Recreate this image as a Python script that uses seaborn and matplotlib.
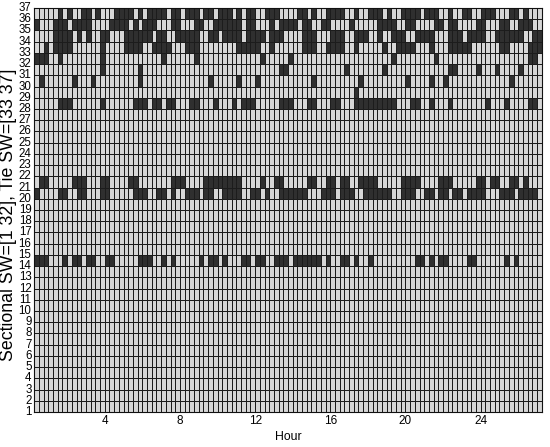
import matplotlib
matplotlib.use("Agg")
import matplotlib.pyplot as plt
import numpy as np
import pandas as pd
import seaborn as sns
from matplotlib.colors import ListedColormap

N_SLOTS = 108   # quarter-hour slots, 0.25 h .. 27.25 h
N_ROWS = 36     # cells between switch lines 1..37

# dark cells per row (1-based slot index); row key = lower switch line of the cell
row36 = [6, 8, 11, 12, 14, 18, 19, 20, 21, 23, 25, 26, 27, 28, 30, 31, 33, 34, 35, 37, 38, 40, 41, 42,
         44, 46, 47, 50, 51, 52, 57, 58, 60, 63, 64, 65, 66, 69, 72, 73, 74, 76, 79, 80, 81, 82, 84,
         85, 86, 89, 92, 93, 96, 97, 98, 102, 103, 105]
row35 = [1, 5, 6, 7, 9, 10, 11, 12, 17, 18, 19, 20, 22, 24, 25, 26, 30, 31, 35, 36, 39, 40, 41, 42,
         43, 44, 46, 47, 51, 53, 54, 55, 56, 58, 59, 62, 63, 68, 74, 75, 76, 77, 80, 81, 86, 87, 89,
         90, 95, 96, 100, 101, 104, 105, 106]
row34 = [5, 6, 7, 8, 10, 12, 15, 16, 20, 21, 22, 23, 24, 25, 27, 28, 31, 32, 33, 34, 35, 38, 39, 41,
         42, 43, 44, 46, 47, 48, 49, 51, 52, 53, 58, 59, 60, 64, 65, 66, 69, 70, 71, 74, 77, 78, 79,
         82, 83, 84, 85, 89, 90, 91, 93, 94, 95, 96, 99, 100, 101, 102, 103, 104, 107, 108]
row33 = [3, 5, 6, 7, 8, 15, 20, 21, 22, 23, 26, 27, 28, 29, 33, 34, 35, 44, 45, 46, 47, 48, 51, 58,
         59, 60, 63, 64, 65, 66, 69, 75, 78, 79, 80, 81, 85, 89, 90, 91, 92, 93, 100, 101, 106, 107, 108]
row32 = [1, 2, 3, 6, 15, 28, 35, 49, 55, 77, 86, 106, 107]
row31 = [15, 23, 53, 54, 67, 75, 89, 90, 95, 99, 104]
row30 = [2, 9, 13, 23, 38, 44, 48, 60, 70, 80, 85, 88, 102]
row29 = [69]
row28 = [6, 7, 8, 15, 22, 23, 24, 26, 27, 29, 30, 34, 35, 39, 43, 45, 46, 47, 53, 54, 55, 59, 60, 64,
         65, 69, 70, 71, 72, 73, 74, 75, 76, 77, 81, 82, 85, 89, 97, 101, 106, 107]
row21 = [2, 3, 9, 10, 11, 15, 16, 21, 22, 30, 31, 32, 37, 38, 39, 40, 41, 42, 43, 44, 49, 52, 53, 59,
         60, 63, 64, 66, 67, 70, 71, 72, 73, 79, 80, 81, 82, 87, 88, 89, 95, 96, 98, 99, 102, 103, 105]
row20 = [1, 6, 7, 10, 11, 15, 16, 22, 23, 24, 27, 28, 30, 33, 34, 35, 37, 38, 41, 42, 43, 44, 47, 48,
         50, 53, 54, 55, 56, 57, 58, 62, 63, 64, 66, 67, 68, 71, 72, 73, 74, 75, 76, 79, 80, 81, 84,
         85, 87, 88, 90, 91, 93, 94, 95, 96, 100, 101, 102, 104, 105, 106, 107]
row14 = [1, 2, 3, 7, 9, 10, 12, 13, 16, 17, 23, 24, 25, 28, 30, 36, 38, 39, 41, 45, 46, 48, 49, 52,
         53, 54, 56, 57, 58, 59, 60, 61, 63, 66, 67, 69, 72, 82, 83, 85, 87, 88, 93, 94, 101, 103]

hour_ticks = [4, 8, 12, 16, 20, 24]
switch_lines = list(range(37, 0, -1))

LIGHT = "#d7d7d7"
DARK = "#2f2f2f"
LINE = "#1c1c1c"


def build_matrix() -> pd.DataFrame:
    grid = np.zeros((N_ROWS, N_SLOTS))
    rows = {36: row36, 35: row35, 34: row34, 33: row33, 32: row32, 31: row31,
            30: row30, 29: row29, 28: row28, 21: row21, 20: row20, 14: row14}
    for r, cols in rows.items():
        grid[N_ROWS - r, np.asarray(cols) - 1] = 1
    return pd.DataFrame(grid)


def main() -> None:
    plt.rcParams["font.family"] = ["Liberation Sans", "DejaVu Sans"]
    data = build_matrix()

    fig = plt.figure(figsize=(5.5, 4.47), dpi=100, facecolor="white")
    ax = fig.add_axes([34.3 / 550, 1 - 412 / 447, (541.7 - 34.3) / 550, (412 - 8) / 447])

    sns.heatmap(
        data,
        cmap=ListedColormap([LIGHT, DARK]),
        vmin=0,
        vmax=1,
        cbar=False,
        linewidths=0.6,
        linecolor=LINE,
        ax=ax,
    )

    ax.set_yticks(np.arange(len(switch_lines)))
    ax.set_yticklabels([str(s) for s in switch_lines], rotation=0, fontsize=8.3)
    ax.set_xticks([4 * h - 1 for h in hour_ticks])
    ax.set_xticklabels([str(h) for h in hour_ticks], rotation=0, fontsize=8.5)
    ax.tick_params(axis="both", length=0, pad=2)
    ax.set_xlabel("Hour", fontsize=8.8, labelpad=3)
    ax.set_ylabel("")
    for spine in ax.spines.values():
        spine.set_visible(True)
        spine.set_color("#111111")
        spine.set_linewidth(0.8)

    fig.text(8.5 / 550, 1 - 215 / 447, "Sectional SW=[1 32], Tie SW=[33 37]",
             rotation=90, ha="center", va="center", fontsize=12.8)

    fig.savefig("out.png", dpi=100, facecolor="white")
    plt.close(fig)


if __name__ == "__main__":
    main()
